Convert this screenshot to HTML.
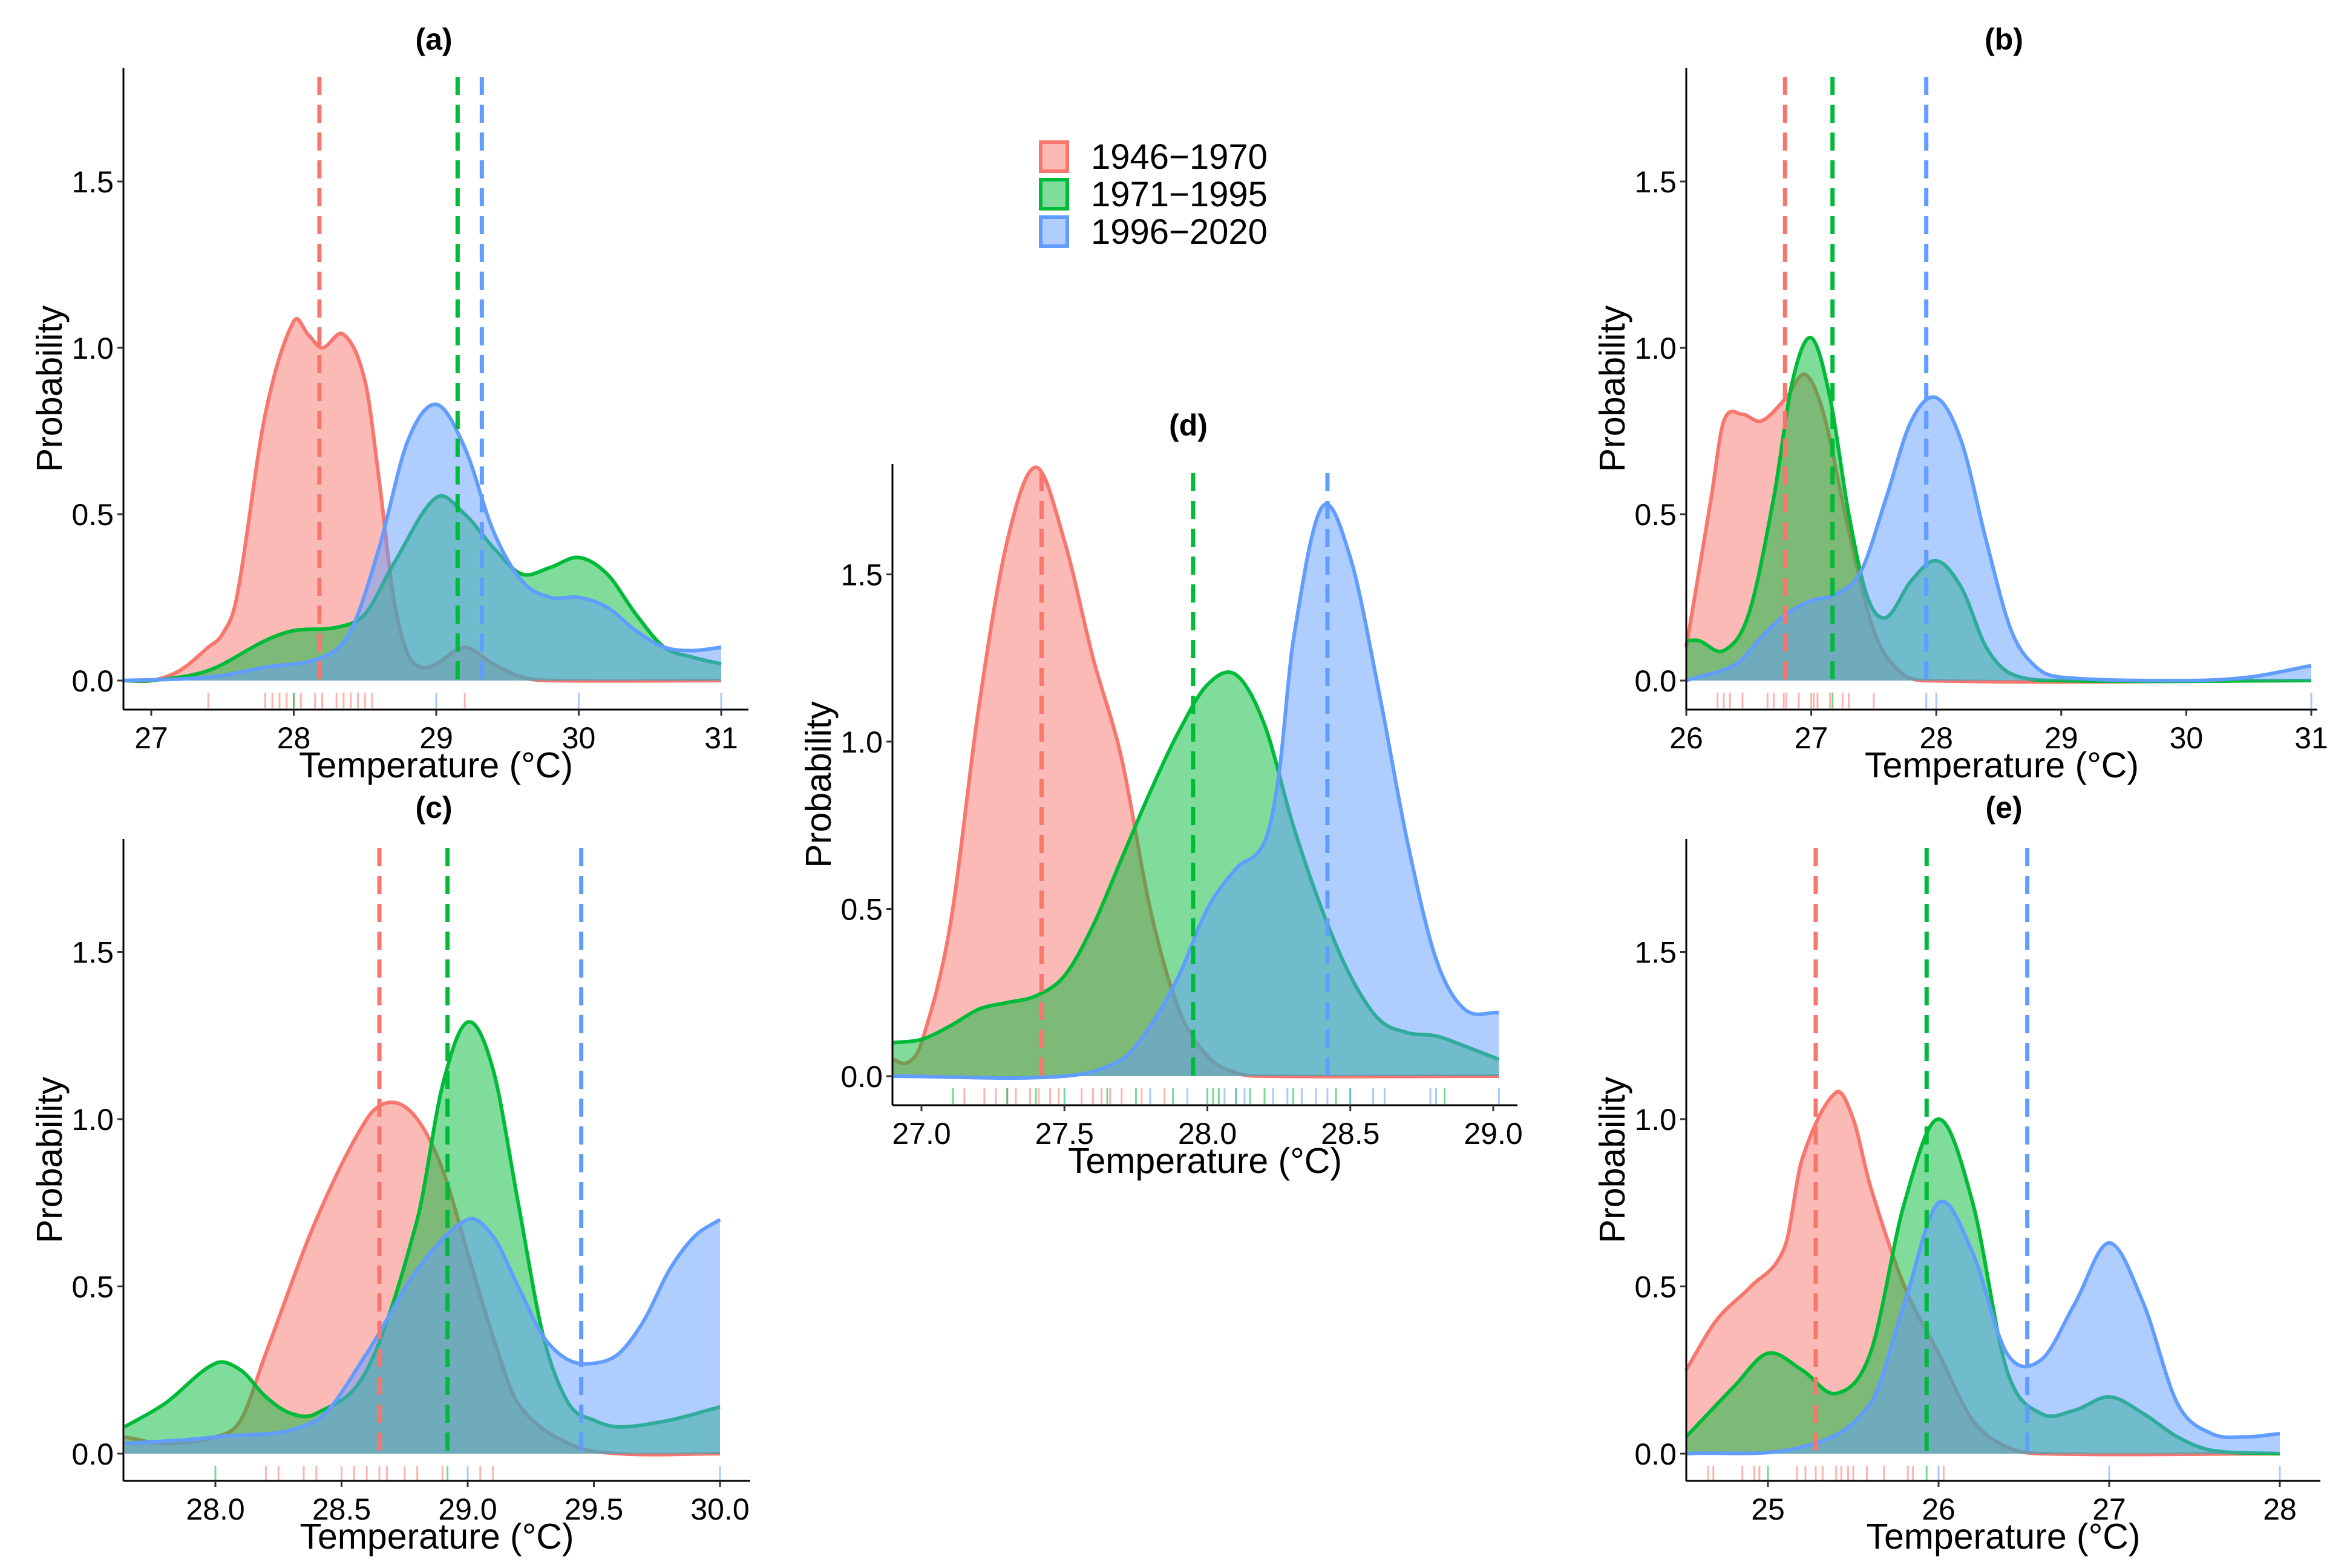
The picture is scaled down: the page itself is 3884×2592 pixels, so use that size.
<!DOCTYPE html>
<html><head><meta charset="utf-8"><title>Temperature density panels</title>
<style>
html,body{margin:0;padding:0;background:#fff;}
svg{display:block;font-family:"Liberation Sans",Arial,sans-serif;}
</style></head>
<body>
<svg id="chart" width="3884" height="2592" viewBox="0 0 3884 2592" xmlns="http://www.w3.org/2000/svg">
<g id="legend">
  <g>
    <rect x="1720" y="235" width="44" height="48" fill="#F8766D" fill-opacity="0.5" stroke="#F8766D" stroke-width="6"/>
    <text x="1803" y="279" font-size="58">1946−1970</text>
  </g>
  <g>
    <rect x="1720" y="297" width="44" height="48" fill="#00BA38" fill-opacity="0.5" stroke="#00BA38" stroke-width="6"/>
    <text x="1803" y="341" font-size="58">1971−1995</text>
  </g>
  <g>
    <rect x="1720" y="359" width="44" height="48" fill="#619CFF" fill-opacity="0.5" stroke="#619CFF" stroke-width="6"/>
    <text x="1803" y="403" font-size="58">1996−2020</text>
  </g>
</g>
</svg>
<script>
// ---------- Panel (a) data ----------
const aRedX=[26.8,27.0,27.2,27.4,27.5,27.6,27.8,28.0,28.1,28.2,28.35,28.5,28.6,28.7,28.8,28.9,29.0,29.2,29.4,29.6,29.8,31.0];
const aRedY=[0,0,0.03,0.1,0.14,0.25,0.8,1.08,1.04,1.0,1.04,0.9,0.6,0.25,0.08,0.04,0.05,0.1,0.05,0.01,0,0];
const aGreenX=[26.8,27.0,27.4,27.8,28.0,28.3,28.5,28.7,29.0,29.2,29.4,29.6,29.8,30.0,30.2,30.4,30.6,30.8,31.0];
const aGreenY=[0,0,0.03,0.12,0.15,0.16,0.2,0.35,0.55,0.5,0.4,0.32,0.34,0.37,0.32,0.2,0.1,0.07,0.05];
const aBlueX=[26.8,27.4,27.8,28.2,28.4,28.6,28.8,29.0,29.2,29.4,29.6,29.8,30.0,30.2,30.4,30.6,30.8,31.0];
const aBlueY=[0,0.01,0.04,0.07,0.15,0.4,0.72,0.83,0.7,0.45,0.3,0.25,0.25,0.22,0.15,0.1,0.09,0.1];
const aMeans=[28.18,29.15,29.32];
const aRugRed=[27.4,27.8,27.85,27.9,27.95,28.0,28.05,28.15,28.2,28.3,28.35,28.4,28.45,28.5,28.55,29.2];
const aRugGreen=[28.0];
const aRugBlue=[29.0,30.0,31.0];
const aXTicks=[27,28,29,30,31];
// ---------- Panel (b) data ----------
const bRedX=[26.0,26.2,26.3,26.45,26.6,26.8,26.95,27.1,27.3,27.5,27.7,27.9,31.0];
const bRedY=[0.1,0.55,0.78,0.8,0.78,0.85,0.92,0.8,0.45,0.15,0.03,0,0];
const bGreenX=[26.0,26.1,26.3,26.5,26.7,26.85,27.0,27.15,27.3,27.45,27.6,27.8,28.0,28.2,28.4,28.6,29.0,31.0];
const bGreenY=[0.12,0.12,0.09,0.2,0.55,0.9,1.03,0.85,0.5,0.25,0.19,0.3,0.36,0.28,0.1,0.02,0,0];
const bBlueX=[26.0,26.4,26.6,26.8,27.0,27.2,27.4,27.6,27.8,28.0,28.2,28.4,28.6,28.8,29.0,30.0,30.5,31.0];
const bBlueY=[0,0.05,0.13,0.2,0.24,0.26,0.33,0.55,0.78,0.85,0.72,0.42,0.15,0.04,0.01,0,0.01,0.045];
const bMeans=[26.79,27.17,27.92];
const bRugRed=[26.25,26.3,26.35,26.45,26.65,26.7,26.78,26.8,26.9,27.0,27.02,27.05,27.15,27.25,27.3,27.5];
const bRugGreen=[26.0,27.17];
const bRugBlue=[27.92,28.0,31.0];
const bXTicks=[26,27,28,29,30,31];
// ---------- Panel (c) data ----------
const cRedX=[27.64,27.8,28.0,28.1,28.2,28.4,28.6,28.7,28.8,28.9,29.0,29.1,29.2,29.4,29.6,30.0];
const cRedY=[0.05,0.03,0.05,0.1,0.3,0.7,1.0,1.05,1.0,0.85,0.6,0.35,0.15,0.03,0,0];
const cGreenX=[27.64,27.8,28.0,28.1,28.2,28.3,28.4,28.6,28.8,28.9,29.0,29.1,29.2,29.3,29.4,29.5,29.6,29.8,30.0];
const cGreenY=[0.08,0.15,0.27,0.25,0.17,0.12,0.12,0.25,0.7,1.1,1.29,1.15,0.75,0.35,0.15,0.1,0.08,0.1,0.14];
const cBlueX=[27.64,28.0,28.4,28.6,28.8,29.0,29.1,29.2,29.3,29.4,29.5,29.6,29.7,29.8,29.9,30.0];
const cBlueY=[0.03,0.05,0.1,0.3,0.55,0.7,0.65,0.5,0.35,0.28,0.27,0.3,0.4,0.55,0.65,0.7];
const cMeans=[28.65,28.92,29.45];
const cRugRed=[28.2,28.25,28.35,28.4,28.5,28.55,28.6,28.65,28.68,28.75,28.8,28.9,29.05,29.1];
const cRugGreen=[28.0,28.92];
const cRugBlue=[29.0,30.0];
const cXTicks=[28.0,28.5,29.0,29.5,30.0];
// ---------- Panel (d) data ----------
const dRedX=[26.9,26.95,27.0,27.1,27.2,27.3,27.4,27.5,27.6,27.7,27.8,27.9,28.0,28.1,28.2,29.02];
const dRedY=[0.05,0.04,0.1,0.45,1.1,1.6,1.82,1.6,1.25,0.95,0.5,0.2,0.06,0.01,0,0];
const dGreenX=[26.9,27.0,27.1,27.2,27.3,27.4,27.5,27.6,27.7,27.8,27.9,28.0,28.1,28.2,28.3,28.4,28.5,28.6,28.7,28.8,28.9,29.02];
const dGreenY=[0.1,0.11,0.15,0.2,0.22,0.24,0.3,0.45,0.65,0.85,1.03,1.17,1.2,1.05,0.75,0.5,0.3,0.17,0.13,0.12,0.09,0.05];
const dBlueX=[26.9,27.5,27.7,27.8,27.9,28.0,28.1,28.2,28.25,28.3,28.4,28.5,28.6,28.7,28.8,28.9,29.02];
const dBlueY=[0,0,0.05,0.15,0.3,0.5,0.62,0.7,0.9,1.3,1.7,1.55,1.15,0.7,0.35,0.2,0.19];
const dMeans=[27.42,27.95,28.42];
const dRugRed=[27.15,27.22,27.26,27.3,27.33,27.38,27.41,27.45,27.48,27.56,27.6,27.63,27.66,27.7,27.77,27.85];
const dRugGreen=[27.11,27.3,27.4,27.5,27.65,27.75,27.88,28.0,28.02,28.04,28.1,28.15,28.2,28.3,28.45,28.5,28.83];
const dRugBlue=[27.8,27.93,28.06,28.1,28.13,28.23,28.28,28.33,28.38,28.42,28.5,28.58,28.62,28.78,28.8,29.02];
const dXTicks=[27.0,27.5,28.0,28.5,29.0];
// ---------- Panel (e) data ----------
const eRedX=[24.52,24.7,24.9,25.1,25.2,25.4,25.5,25.6,25.8,26.0,26.2,26.4,26.6,28.0];
const eRedY=[0.25,0.4,0.5,0.62,0.88,1.08,1.0,0.8,0.5,0.3,0.1,0.02,0,0];
const eGreenX=[24.52,24.8,25.0,25.2,25.4,25.6,25.8,26.0,26.2,26.4,26.6,26.8,27.0,27.2,27.4,27.6,28.0];
const eGreenY=[0.05,0.2,0.3,0.25,0.18,0.3,0.75,1.0,0.75,0.25,0.12,0.13,0.17,0.12,0.05,0.01,0];
const eBlueX=[24.52,25.2,25.6,25.8,26.0,26.2,26.4,26.6,26.8,27.0,27.2,27.4,27.6,27.8,28.0];
const eBlueY=[0,0.02,0.15,0.45,0.75,0.6,0.3,0.28,0.45,0.63,0.45,0.15,0.06,0.05,0.06];
const eMeans=[25.28,25.93,26.52];
const eRugRed=[24.65,24.68,24.85,24.92,24.95,25.17,25.22,25.28,25.32,25.4,25.43,25.47,25.5,25.58,25.68,25.82,25.85,26.03];
const eRugGreen=[25.0,25.93];
const eRugBlue=[26.0,27.0,28.0];
const eXTicks=[25,26,27,28];

const yTicks=[0.0,0.5,1.0,1.5];
const yTickLabels=["0.0","0.5","1.0","1.5"];
const COLORS=["#F8766D","#00BA38","#619CFF"];
const SERIES_NAMES=["1946-1970","1971-1995","1996-2020"];

const svg=document.getElementById('chart');
const NS="http://www.w3.org/2000/svg";
function mk(tag,attrs,parent){const e=document.createElementNS(NS,tag);for(const k in attrs)e.setAttribute(k,attrs[k]);(parent||svg).appendChild(e);return e;}

function smoothPath(pts){
  let d="M"+pts[0][0].toFixed(1)+","+pts[0][1].toFixed(1);
  for(let i=0;i<pts.length-1;i++){
    const p0=pts[Math.max(0,i-1)],p1=pts[i],p2=pts[i+1],p3=pts[Math.min(pts.length-1,i+2)];
    const t=6;
    let c1y=p1[1]+(p2[1]-p0[1])/t*( (p2[0]-p1[0])/Math.max(1e-6,(p2[0]-p0[0])/2) );
    let c2y=p2[1]-(p3[1]-p1[1])/t*( (p2[0]-p1[0])/Math.max(1e-6,(p3[0]-p1[0])/2) );
    const c1x=p1[0]+(p2[0]-p1[0])/3, c2x=p2[0]-(p2[0]-p1[0])/3;
    const lo=Math.min(p1[1],p2[1])-40, hi=Math.max(p1[1],p2[1])+40;
    c1y=Math.max(lo,Math.min(hi,c1y)); c2y=Math.max(lo,Math.min(hi,c2y));
    d+=" C"+c1x.toFixed(1)+","+c1y.toFixed(1)+" "+c2x.toFixed(1)+","+c2y.toFixed(1)+" "+p2[0].toFixed(1)+","+p2[1].toFixed(1);
  }
  return d;
}

function panel(cfg){
  const g=mk('g',{});
  
  
  const xS=v=>cfg.x0px+(v-cfg.t0)*(cfg.x1px-cfg.x0px)/(cfg.t1-cfg.t0);
  const yS=v=>cfg.zeroY-v*cfg.unit;
  const zero=cfg.zeroY;
  cfg.series.forEach((s,i)=>{
    const pts=s.x.map((xv,j)=>[xS(xv),yS(s.y[j])]);
    const line=smoothPath(pts);
    const area=mk('path',{d:line+" L"+pts[pts.length-1][0].toFixed(1)+","+zero+" L"+pts[0][0].toFixed(1)+","+zero+" Z",fill:COLORS[i],'fill-opacity':0.5,stroke:'none'},g);
    
    
    const ln=mk('path',{d:line,fill:'none',stroke:COLORS[i],'stroke-width':6,'stroke-linejoin':'round'},g);
    
    
  });
  cfg.rugs.forEach((arr,i)=>{
    arr.forEach(v=>{
      const r=mk('line',{x1:xS(v),x2:xS(v),y1:zero+20,y2:zero+46,stroke:COLORS[i],'stroke-width':3,'stroke-opacity':0.55},g);
      
      
    });
  });
  cfg.means.forEach((v,i)=>{
    const m=mk('line',{x1:xS(v),x2:xS(v),y1:cfg.top+15,y2:zero,stroke:COLORS[i],'stroke-width':7,'stroke-dasharray':'30 16'},g);
    
    
  });
  const ya=mk('line',{x1:cfg.left,x2:cfg.left,y1:cfg.top,y2:cfg.bottom,stroke:'#000','stroke-width':3},g);
  
  
  const xa=mk('line',{x1:cfg.left,x2:cfg.right,y1:cfg.bottom,y2:cfg.bottom,stroke:'#000','stroke-width':3},g);
  
  
  cfg.xticks.forEach(v=>{
    const t=mk('line',{x1:xS(v),x2:xS(v),y1:cfg.bottom,y2:cfg.bottom+10,stroke:'#333','stroke-width':3},g);
    
    
    const lb=mk('text',{x:xS(v),y:cfg.bottom+64,'font-size':50,'text-anchor':'middle',fill:'#000'},g);
    lb.textContent=cfg.xfmt(v);
    
    
  });
  yTicks.forEach((v,i)=>{
    const t=mk('line',{x1:cfg.left-10,x2:cfg.left,y1:yS(v),y2:yS(v),stroke:'#333','stroke-width':3},g);
    
    
    const lb=mk('text',{x:cfg.left-16,y:yS(v)+18,'font-size':50,'text-anchor':'end',fill:'#000'},g);
    lb.textContent=yTickLabels[i];
    
    
  });
  const xt=mk('text',{x:(cfg.left+cfg.right)/2,y:cfg.bottom+112,'font-size':59,'text-anchor':'middle',fill:'#000'},g);
  xt.textContent="Temperature (°C)";
  
  
  const cy=(cfg.top+cfg.bottom)/2;
  const yt=mk('text',{x:cfg.left-102,y:cy,'font-size':59,'text-anchor':'middle',fill:'#000',transform:'rotate(-90 '+(cfg.left-102)+' '+cy+')'},g);
  yt.textContent="Probability";
  
  
  const ti=mk('text',{x:cfg.titleX,y:cfg.titleY,'font-size':50,'font-weight':'bold','text-anchor':'middle',fill:'#000'},g);
  ti.textContent="("+cfg.id+")";
  
  
}
const f0=v=>String(v), f1=v=>v.toFixed(1);

panel({id:'a',left:204,right:1237,top:112,bottom:1173,zeroY:1125,unit:550,t0:27,t1:31,x0px:250,x1px:1192,titleX:717,titleY:82,
  xticks:aXTicks,xfmt:f0,means:aMeans,rugs:[aRugRed,aRugGreen,aRugBlue],
  series:[{x:aRedX,y:aRedY},{x:aGreenX,y:aGreenY},{x:aBlueX,y:aBlueY}]});
panel({id:'b',left:2787,right:3830,top:112,bottom:1173,zeroY:1125,unit:550,t0:26,t1:31,x0px:2787,x1px:3820,titleX:3312,titleY:82,
  xticks:bXTicks,xfmt:f0,means:bMeans,rugs:[bRugRed,bRugGreen,bRugBlue],
  series:[{x:bRedX,y:bRedY},{x:bGreenX,y:bGreenY},{x:bBlueX,y:bBlueY}]});
panel({id:'c',left:204,right:1240,top:1387,bottom:2448,zeroY:2403,unit:553,t0:28,t1:30,x0px:356,x1px:1190,titleX:717,titleY:1352,
  xticks:cXTicks,xfmt:f1,means:cMeans,rugs:[cRugRed,cRugGreen,cRugBlue],
  series:[{x:cRedX,y:cRedY},{x:cGreenX,y:cGreenY},{x:cBlueX,y:cBlueY}]});
panel({id:'d',left:1475,right:2508,top:767,bottom:1827,zeroY:1779,unit:553,t0:27,t1:29,x0px:1523,x1px:2468,titleX:1964,titleY:720,
  xticks:dXTicks,xfmt:f1,means:dMeans,rugs:[dRugRed,dRugGreen,dRugBlue],
  series:[{x:dRedX,y:dRedY},{x:dGreenX,y:dGreenY},{x:dBlueX,y:dBlueY}]});
panel({id:'e',left:2787,right:3835,top:1387,bottom:2448,zeroY:2403,unit:553,t0:25,t1:28,x0px:2922,x1px:3768,titleX:3312,titleY:1352,
  xticks:eXTicks,xfmt:f0,means:eMeans,rugs:[eRugRed,eRugGreen,eRugBlue],
  series:[{x:eRedX,y:eRedY},{x:eGreenX,y:eGreenY},{x:eBlueX,y:eBlueY}]});
svg.appendChild(document.getElementById('legend'));
</script>
</body></html>
